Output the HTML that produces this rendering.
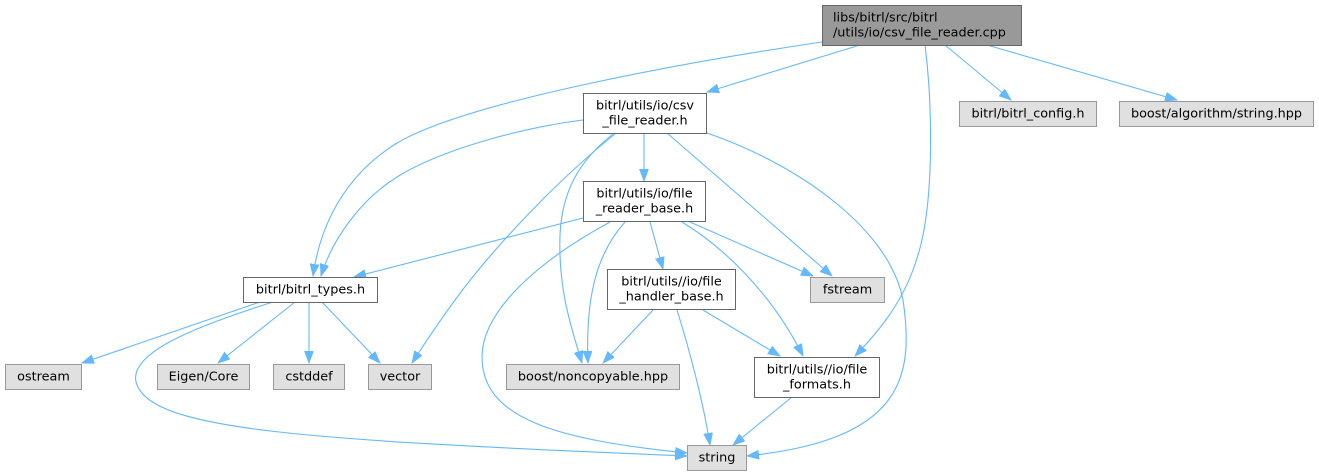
<!DOCTYPE html>
<html><head><meta charset="utf-8"><style>
html,body{margin:0;padding:0;background:#fff;}
svg{display:block;}
text{font-family:"DejaVu Sans","Liberation Sans",sans-serif;font-size:12.8px;fill:#000;}
.e{fill:none;stroke:#63b8ff;stroke-width:1.1;}
</style></head><body>
<svg width="1319" height="476" viewBox="0 0 1319 476" xmlns="http://www.w3.org/2000/svg">
<defs>
<marker id="a" markerWidth="14" markerHeight="12" refX="12" refY="4.5" orient="auto" markerUnits="userSpaceOnUse">
<path d="M0,0 L12,4.5 L0,9 z" fill="#63b8ff" stroke="#63b8ff" stroke-width="0.8"/>
</marker>
</defs>
<g marker-end="url(#a)">
<!-- top -> bitrl_types -->
<path class="e" d="M822,42 C700,60 470,100 397,143 C345,175 320,225 313,276"/>
<!-- top -> csv_file_reader.h -->
<path class="e" d="M860,45 L707,92"/>
<!-- top -> file_formats -->
<path class="e" d="M925,45 C932,100 935,200 918,255 C905,300 880,330 855,356"/>
<!-- top -> config -->
<path class="e" d="M945,45 L1011,100"/>
<!-- top -> boost algorithm -->
<path class="e" d="M987,45 L1177,100"/>
<!-- csv -> bitrl_types -->
<path class="e" d="M583,120 C520,128 440,150 397,177 C360,200 332,240 321,276"/>
<!-- csv -> file_reader_base -->
<path class="e" d="M644,133 L644,181"/>
<!-- csv -> vector -->
<path class="e" d="M615,134 C570,170 520,220 480,268 C455,298 430,335 412,363"/>
<!-- csv -> noncopyable -->
<path class="e" d="M613,134 C580,160 562,190 560,235 C558,290 572,330 582,363"/>
<!-- csv -> fstream -->
<path class="e" d="M667,133 L832,276"/>
<!-- csv -> string -->
<path class="e" d="M707,133 C800,165 890,230 903,300 C915,380 900,440 747,456"/>
<!-- frb -> bitrl_types -->
<path class="e" d="M583,218 L354,277"/>
<!-- frb -> string -->
<path class="e" d="M610,222 C540,260 482,310 482,357 C482,420 560,440 687,453"/>
<!-- frb -> noncopyable -->
<path class="e" d="M625,222 C600,250 585,290 588,363"/>
<!-- frb -> file_handler_base -->
<path class="e" d="M650,222 L663,269"/>
<!-- frb -> fstream -->
<path class="e" d="M690,222 L813,276"/>
<!-- frb -> file_formats -->
<path class="e" d="M682,222 C720,245 770,290 803,356"/>
<!-- bitrl_types -> ostream -->
<path class="e" d="M260,302 L82,363"/>
<!-- bitrl_types -> string -->
<path class="e" d="M273,302 C190,328 125,355 137,385 C155,430 300,440 687,456"/>
<!-- bitrl_types -> Eigen -->
<path class="e" d="M295,302 L218,363"/>
<!-- bitrl_types -> cstddef -->
<path class="e" d="M309,302 L309,363"/>
<!-- bitrl_types -> vector -->
<path class="e" d="M322,302 L380,363"/>
<!-- fhb -> noncopyable -->
<path class="e" d="M653,310 L603,363"/>
<!-- fhb -> string -->
<path class="e" d="M677,310 C688,345 703,400 710,445"/>
<!-- fhb -> file_formats -->
<path class="e" d="M703,310 L780,356"/>
<!-- file_formats -> string -->
<path class="e" d="M792,397 L733,445"/>
</g>

<!-- nodes -->
<rect x="822.5" y="5.5" width="199" height="40" fill="#999999" stroke="#666666"/>
<text x="833" y="21.5">libs/bitrl/src/bitrl</text>
<text x="833" y="36.5">/utils/io/csv_file_reader.cpp</text>

<rect x="583.5" y="93.5" width="123" height="40" fill="#ffffff" stroke="#666666"/>
<text x="645" y="109.5" text-anchor="middle">bitrl/utils/io/csv</text>
<text x="645" y="124.5" text-anchor="middle">_file_reader.h</text>

<rect x="583.5" y="181.5" width="122" height="40" fill="#ffffff" stroke="#666666"/>
<text x="644.5" y="197.5" text-anchor="middle">bitrl/utils/io/file</text>
<text x="644.5" y="212.5" text-anchor="middle">_reader_base.h</text>

<rect x="243.5" y="277.5" width="134" height="25" fill="#ffffff" stroke="#666666"/>
<text x="310.5" y="293.5" text-anchor="middle">bitrl/bitrl_types.h</text>

<rect x="607.5" y="269.5" width="128" height="40" fill="#ffffff" stroke="#666666"/>
<text x="671.5" y="285.5" text-anchor="middle">bitrl/utils//io/file</text>
<text x="671.5" y="300.5" text-anchor="middle">_handler_base.h</text>

<rect x="810.5" y="277.5" width="74" height="25" fill="#e0e0e0" stroke="#999999"/>
<text x="847.5" y="293.5" text-anchor="middle">fstream</text>

<rect x="506.5" y="364.5" width="173" height="25" fill="#e0e0e0" stroke="#999999"/>
<text x="593" y="380.5" text-anchor="middle">boost/noncopyable.hpp</text>

<rect x="754.5" y="357.5" width="125" height="40" fill="#ffffff" stroke="#666666"/>
<text x="817" y="373.5" text-anchor="middle">bitrl/utils//io/file</text>
<text x="817" y="388.5" text-anchor="middle">_formats.h</text>

<rect x="687.5" y="445.5" width="59" height="25" fill="#e0e0e0" stroke="#999999"/>
<text x="717" y="461.5" text-anchor="middle">string</text>

<rect x="5.5" y="364.5" width="76" height="25" fill="#e0e0e0" stroke="#999999"/>
<text x="43.5" y="380.5" text-anchor="middle">ostream</text>

<rect x="157.5" y="364.5" width="92" height="25" fill="#e0e0e0" stroke="#999999"/>
<text x="203.5" y="380.5" text-anchor="middle">Eigen/Core</text>

<rect x="273.5" y="364.5" width="71" height="25" fill="#e0e0e0" stroke="#999999"/>
<text x="309" y="380.5" text-anchor="middle">cstddef</text>

<rect x="368.5" y="364.5" width="63" height="25" fill="#e0e0e0" stroke="#999999"/>
<text x="400" y="380.5" text-anchor="middle">vector</text>

<rect x="959.5" y="101.5" width="137" height="25" fill="#e0e0e0" stroke="#999999"/>
<text x="1028" y="117.5" text-anchor="middle">bitrl/bitrl_config.h</text>

<rect x="1119.5" y="101.5" width="194" height="25" fill="#e0e0e0" stroke="#999999"/>
<text x="1216.5" y="117.5" text-anchor="middle">boost/algorithm/string.hpp</text>
</svg>
</body></html>
